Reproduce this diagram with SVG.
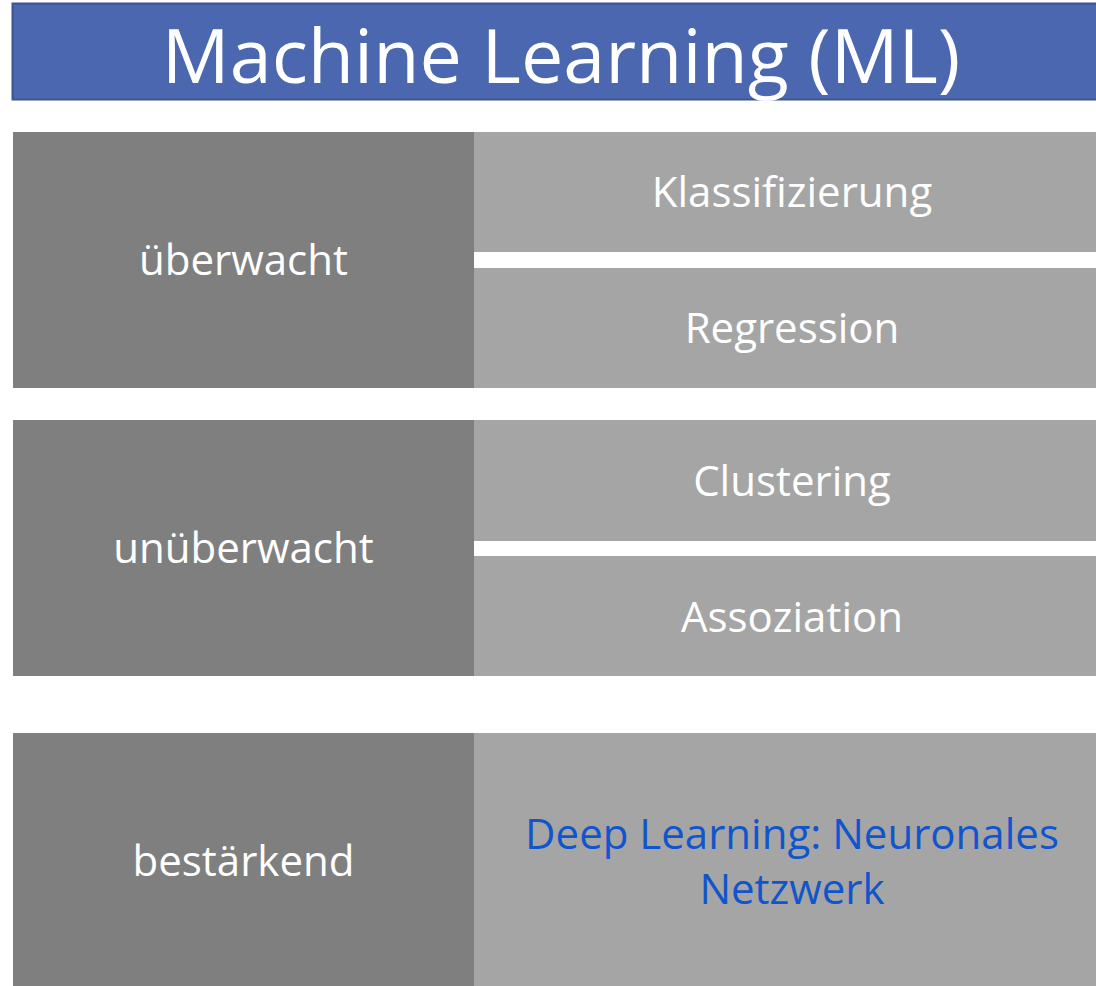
<svg xmlns="http://www.w3.org/2000/svg" width="1096" height="986" viewBox="0 0 1096 986">
<style>
.dark{fill:#7F7F7F}
.light{fill:#A5A5A5}
.t{font-family:"Open Sans","Noto Sans","DejaVu Sans",sans-serif;font-size:42px;fill:#FFFFFF;text-anchor:middle}
.blue{fill:#1155CC}
</style>
<rect width="1096" height="986" fill="#FFFFFF"/>
<g id="title">
<rect x="12.5" y="3.5" width="1100" height="96" fill="#4A67AF" stroke="#3A5590" stroke-width="2"/>
<text x="561" y="83" class="t" style="font-size:75.5px">Machine Learning (ML)</text>
</g>
<g id="ueberwacht">
<rect x="13" y="132" width="461" height="256" class="dark"/>
<text x="243.5" y="275" class="t">überwacht</text>
</g>
<g id="klassifizierung">
<rect x="474" y="132" width="622" height="120" class="light"/>
<text x="792" y="207" class="t">Klassifizierung</text>
</g>
<g id="regression">
<rect x="474" y="268" width="622" height="120" class="light"/>
<text x="792" y="343" class="t">Regression</text>
</g>
<g id="unueberwacht">
<rect x="13" y="420" width="461" height="256" class="dark"/>
<text x="243.5" y="563" class="t">unüberwacht</text>
</g>
<g id="clustering">
<rect x="474" y="420" width="622" height="121" class="light"/>
<text x="792" y="496" class="t">Clustering</text>
</g>
<g id="assoziation">
<rect x="474" y="556" width="622" height="120" class="light"/>
<text x="792" y="632" class="t">Assoziation</text>
</g>
<g id="bestaerkend">
<rect x="13" y="733" width="461" height="253" class="dark"/>
<text x="243.5" y="876" class="t">bestärkend</text>
</g>
<g id="deeplearning">
<rect x="474" y="733" width="622" height="253" class="light"/>
<text x="792" y="849" class="t blue">Deep Learning: Neuronales</text>
<text x="792" y="904" class="t blue">Netzwerk</text>
</g>
<g id="connectors"></g>
</svg>
